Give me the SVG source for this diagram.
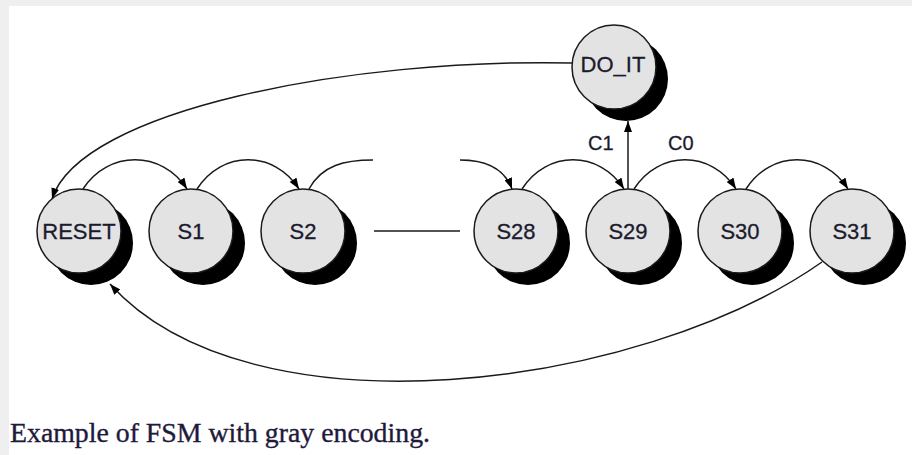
<svg xmlns="http://www.w3.org/2000/svg" width="912" height="455" viewBox="0 0 912 455">
  <defs>
    <style>
      .state circle.face { fill: #e3e3e3; stroke: #1a1a1a; stroke-width: 1.5; }
      .state circle.shade { fill: #000; }
      .state text { font-family: "Liberation Sans", Arial, sans-serif; font-size: 22px; fill: #1b1b2e; stroke: #1b1b2e; stroke-width: 0.3; text-anchor: middle; }
      .edge { fill: none; stroke: #1a1a1a; stroke-width: 1.5; }
      .cond { font-family: "Liberation Sans", Arial, sans-serif; font-size: 20px; fill: #1b1b2e; stroke: #1b1b2e; stroke-width: 0.3; }
      .caption { font-family: "Liberation Serif", "Times New Roman", serif; font-size: 27px; fill: #1e1a3c; stroke: #1e1a3c; stroke-width: 0.35; }
    </style>
    <marker id="arrow" viewBox="0 0 11 8" refX="11" refY="4" markerWidth="11" markerHeight="8" markerUnits="userSpaceOnUse" orient="auto">
      <path d="M0,0 L11,4 L0,8 Z" fill="#000"/>
    </marker>
  </defs>

  <!-- page background -->
  <rect x="0" y="0" width="912" height="455" fill="#efefef"/>
  <rect x="9" y="6" width="903" height="449" fill="#ffffff"/>

  <!-- transitions -->
  <g id="connectors">
    <!-- counting chain along the top -->
    <path class="edge" marker-end="url(#arrow)" d="M83 189 C108 150, 162 150, 187 189"/>
    <path class="edge" marker-end="url(#arrow)" d="M197 189 C222 150, 274 150, 299 189"/>
    <path class="edge" d="M309 189 C322 165, 345 160, 373 160"/>
    <path class="edge" marker-end="url(#arrow)" d="M460 160 C488 160, 505 170, 512 189"/>
    <path class="edge" marker-end="url(#arrow)" d="M522 189 C547 150, 599 150, 624 189"/>
    <path class="edge" marker-end="url(#arrow)" d="M634 189 C659 150, 711 150, 736 189"/>
    <path class="edge" marker-end="url(#arrow)" d="M746 189 C771 150, 823 150, 848 189"/>
    <!-- elided states S3..S27 -->
    <path class="edge" d="M374 231 H460"/>
    <!-- S29 -> DO_IT on C1 -->
    <path class="edge" marker-end="url(#arrow)" d="M628 189 V121"/>
    <!-- DO_IT -> RESET -->
    <path class="edge" marker-end="url(#arrow)" d="M573 63 C350 58, 80 110, 52 199"/>
    <!-- S31 -> RESET -->
    <path class="edge" marker-end="url(#arrow)" d="M822 262 C640 390, 250 440, 110 284"/>
  </g>

  <text class="cond" x="588" y="150">C1</text>
  <text class="cond" x="668" y="150">C0</text>

  <g id="RESET" class="state">
    <circle class="shade" cx="91" cy="243" r="42"/>
    <circle class="face" cx="79" cy="231" r="42"/>
    <text x="79" y="239">RESET</text>
  </g>
  <g id="S1" class="state">
    <circle class="shade" cx="203" cy="243" r="42"/>
    <circle class="face" cx="191" cy="231" r="42"/>
    <text x="191" y="239">S1</text>
  </g>
  <g id="S2" class="state">
    <circle class="shade" cx="315" cy="243" r="42"/>
    <circle class="face" cx="303" cy="231" r="42"/>
    <text x="303" y="239">S2</text>
  </g>
  <g id="S28" class="state">
    <circle class="shade" cx="528" cy="243" r="42"/>
    <circle class="face" cx="516" cy="231" r="42"/>
    <text x="516" y="239">S28</text>
  </g>
  <g id="S29" class="state">
    <circle class="shade" cx="640" cy="243" r="42"/>
    <circle class="face" cx="628" cy="231" r="42"/>
    <text x="628" y="239">S29</text>
  </g>
  <g id="S30" class="state">
    <circle class="shade" cx="752" cy="243" r="42"/>
    <circle class="face" cx="740" cy="231" r="42"/>
    <text x="740" y="239">S30</text>
  </g>
  <g id="S31" class="state">
    <circle class="shade" cx="864" cy="243" r="42"/>
    <circle class="face" cx="852" cy="231" r="42"/>
    <text x="852" y="239">S31</text>
  </g>
  <g id="DO_IT" class="state">
    <circle class="shade" cx="626" cy="79" r="42"/>
    <circle class="face" cx="614" cy="67" r="42"/>
    <text x="613" y="72">DO_IT</text>
  </g>

  <text class="caption" x="10" y="442" textLength="420" lengthAdjust="spacingAndGlyphs">Example of FSM with gray encoding.</text>
</svg>
